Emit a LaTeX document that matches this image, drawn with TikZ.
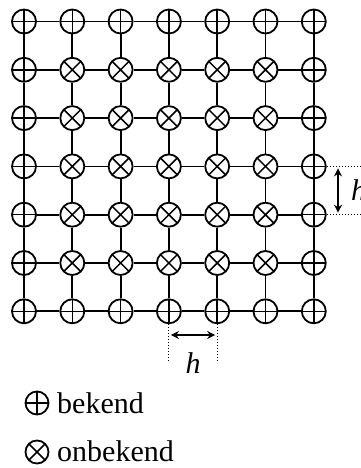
\documentclass[tikz,border=0pt]{standalone}
\usepackage{fontspec}
\setmainfont{Liberation Serif}
\usetikzlibrary{arrows.meta}
\begin{document}
\begin{tikzpicture}[x=1pt,y=-1pt,
  gridline/.style={line width=1.8pt},
  knode/.style={circle,draw,line width=1.8pt,minimum size=24pt,inner sep=0pt,
    path picture={\draw[line width=1.5pt] (path picture bounding box.north) -- (path picture bounding box.south)
      (path picture bounding box.west) -- (path picture bounding box.east);}},
  unode/.style={circle,draw,line width=1.8pt,minimum size=24pt,inner sep=0pt,
    path picture={\draw[line width=1.5pt] (path picture bounding box.north west) -- (path picture bounding box.south east)
      (path picture bounding box.south west) -- (path picture bounding box.north east);}},
  dimline/.style={line width=1pt,dotted},
  dimarrow/.style={line width=1.5pt,{Stealth[length=8pt,width=8pt]}-{Stealth[length=8pt,width=8pt]}},
  lbl/.style={font=\fontsize{30}{34}\selectfont,inner sep=0pt},
  hlbl/.style={font=\fontsize{30}{34}\selectfont\itshape,inner sep=0pt}
]
\useasboundingbox (0,0) rectangle (361,468);
\foreach \i in {0,...,6}{
  \foreach \j in {0,...,6}{
    \pgfmathtruncatemacro{\inner}{(\i>0)&&(\i<6)&&(\j>0)&&(\j<6)}
    \ifnum\inner=1
      \node[unode] (n-\i-\j) at ({24+48.3*\i},{21.5+48.3*\j}) {};
    \else
      \node[knode] (n-\i-\j) at ({24+48.3*\i},{21.5+48.3*\j}) {};
    \fi
  }
}
\foreach \i in {0,...,6}{
  \foreach \j [evaluate=\j as \jn using int(\j+1)] in {0,...,5}{
    \draw[gridline] (n-\i-\j) -- (n-\i-\jn);
    \draw[gridline] (n-\j-\i) -- (n-\jn-\i);
  }
}
% right dimension
\coordinate (r1) at (361,{21.5+48.3*3});
\coordinate (r2) at (361,{21.5+48.3*4});
\draw[dimline] (n-6-3.east) -- (r1);
\draw[dimline] (n-6-4.east) -- (r2);
\coordinate (ra) at (338,{21.5+48.3*3+2});
\coordinate (rb) at (338,{21.5+48.3*4-2});
\draw[dimarrow] (ra) -- (rb);
\node[hlbl,anchor=base west] (hr) at (351,200) {h};
% bottom dimension
\coordinate (b1) at ({24+48.3*3},361);
\coordinate (b2) at ({24+48.3*4},361);
\draw[dimline] (n-3-6.south) -- (b1);
\draw[dimline] (n-4-6.south) -- (b2);
\coordinate (ba) at ({24+48.3*3+2},335);
\coordinate (bb) at ({24+48.3*4-2},335);
\draw[dimarrow] (ba) -- (bb);
\node[hlbl,anchor=base] (hb) at (193,373) {h};
% legend
\node[knode,minimum size=23pt] (lk) at (37,403) {};
\node[lbl,anchor=base west] (tk) at (57,413) {bekend};
\node[unode,minimum size=23pt] (lu) at (37,452) {};
\node[lbl,anchor=base west] (tu) at (57,461.5) {onbekend};
\end{tikzpicture}
\end{document}
